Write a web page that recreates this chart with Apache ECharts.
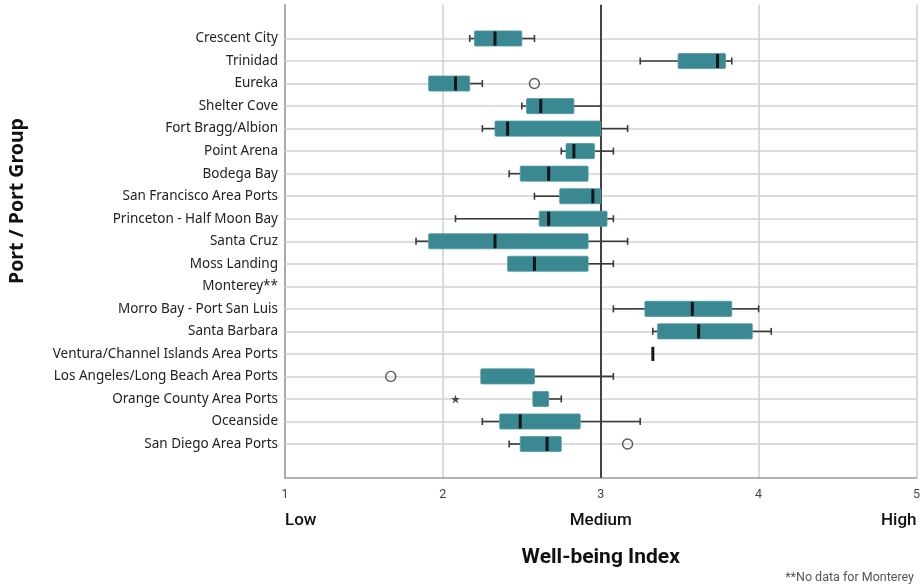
<!DOCTYPE html>
<html>
<head>
<meta charset="utf-8">
<script src="https://cdn.jsdelivr.net/npm/echarts@6/dist/echarts.min.js"></script>
<style>
  html, body { margin: 0; padding: 0; background: #fff; }
  #chart { width: 923px; height: 587px; }
</style>
</head>
<body>
<div id="chart"></div>
<script>
// Ports, north to south
const ports = [
  'Crescent City', 'Trinidad', 'Eureka', 'Shelter Cove', 'Fort Bragg/Albion',
  'Point Arena', 'Bodega Bay', 'San Francisco Area Ports', 'Princeton - Half Moon Bay',
  'Santa Cruz', 'Moss Landing', 'Monterey**', 'Morro Bay - Port San Luis',
  'Santa Barbara', 'Ventura/Channel Islands Area Ports', 'Los Angeles/Long Beach Area Ports',
  'Orange County Area Ports', 'Oceanside', 'San Diego Area Ports'
];

// Five-number summaries of the well-being index (null = no data)
const whiskerLow  = [2.17, 3.25, 1.91, 2.50, 2.25, 2.75, 2.42, 2.58, 2.08, 1.83, 2.41, null, 3.08, 3.33, 3.33, 2.24, 2.57, 2.25, 2.42];
const quartile1   = [2.20, 3.49, 1.91, 2.53, 2.33, 2.78, 2.49, 2.74, 2.61, 1.91, 2.41, null, 3.28, 3.36, 3.33, 2.24, 2.57, 2.36, 2.49];
const medians     = [2.33, 3.74, 2.08, 2.62, 2.41, 2.83, 2.67, 2.95, 2.67, 2.33, 2.58, null, 3.58, 3.62, 3.33, 2.24, 2.57, 2.49, 2.66];
const quartile3   = [2.50, 3.79, 2.17, 2.83, 3.00, 2.96, 2.92, 3.00, 3.04, 2.92, 2.92, null, 3.83, 3.96, 3.33, 2.58, 2.67, 2.87, 2.75];
const whiskerHigh = [2.58, 3.83, 2.25, 3.00, 3.17, 3.08, 2.92, 3.00, 3.08, 3.17, 3.08, null, 4.00, 4.08, 3.33, 3.08, 2.75, 3.25, 2.75];

// Outliers (circles) and extreme values (stars)
const outlierPorts = ['Eureka', 'Los Angeles/Long Beach Area Ports', 'San Diego Area Ports'];
const outlierValues = [2.58, 1.67, 3.17];
const extremePorts = ['Orange County Area Ports'];
const extremeValues = [2.08];

// Axis texts
const scaleTicks = [1, 2, 3, 4, 5];
const scaleWords = { 1: 'Low', 3: 'Medium', 5: 'High' };
const referenceLevel = 3;

// Empty rows above and below the ports leave breathing room inside the frame
const padTop = ' ', padBottom = '  ';
const yCategories = [padTop].concat(ports, [padBottom]);

const boxData = [];
ports.forEach((p, i) => {
  if (medians[i] == null) return;
  boxData.push([p, whiskerLow[i], quartile1[i], medians[i], quartile3[i], whiskerHigh[i]]);
});

const BOX_FILL = '#3a8891';
const WHISKER = '#3a3a3a';

function renderBox(params, api) {
  const row = api.value(0);
  const lo = api.value(1), q1 = api.value(2), md = api.value(3), q3 = api.value(4), hi = api.value(5);
  const band = api.size([0, 1])[1];
  const boxH = band * 0.67;
  const capH = 7;
  const pLo = api.coord([lo, row]);
  const pQ1 = api.coord([q1, row]);
  const pMd = api.coord([md, row]);
  const pQ3 = api.coord([q3, row]);
  const pHi = api.coord([hi, row]);
  const y = pMd[1];
  const line = (x1, y1, x2, y2, stroke, w) => ({
    type: 'line', shape: { x1, y1, x2, y2 }, style: { stroke, lineWidth: w }
  });
  const children = [];
  if (lo < q1) {
    children.push(line(pLo[0], y, pQ1[0], y, WHISKER, 1.6));
    children.push(line(pLo[0], y - capH / 2, pLo[0], y + capH / 2, WHISKER, 1.6));
  }
  if (hi > q3) {
    children.push(line(pQ3[0], y, pHi[0], y, WHISKER, 1.6));
    children.push(line(pHi[0], y - capH / 2, pHi[0], y + capH / 2, WHISKER, 1.6));
  }
  if (q3 > q1) {
    children.push({
      type: 'rect',
      shape: { x: pQ1[0], y: y - boxH / 2, width: pQ3[0] - pQ1[0], height: boxH, r: 1 },
      style: { fill: BOX_FILL, stroke: '#4f9aa2', lineWidth: 0.8 }
    });
  }
  // median bar, hidden when it coincides with one edge of a box
  const onEdge = q3 > q1 && (md === q1 || md === q3);
  if (!onEdge) {
    children.push(line(pMd[0], y - boxH / 2 + 0.5, pMd[0], y + boxH / 2 - 0.5, '#151515', 3));
  }
  return { type: 'group', children };
}

const starPath = 'path://M50,0 L61.8,35.1 L98.9,35.1 L68.9,56.7 L80.3,91.9 L50,70.2 L19.7,91.9 L31.1,56.7 L1.1,35.1 L38.2,35.1 Z';

const chart = echarts.init(document.getElementById('chart'), null, { renderer: 'canvas' });

chart.setOption({
  animation: false,
  backgroundColor: '#fff',
  grid: { left: 285, top: 4.7, width: 634, height: 473.1, containLabel: false },
  xAxis: [
    {
      type: 'value',
      min: scaleTicks[0],
      max: scaleTicks[scaleTicks.length - 1],
      interval: 1,
      axisLine: { show: true, lineStyle: { color: '#9a9a9a', width: 1.5 } },
      axisTick: { show: false },
      axisLabel: {
        color: '#444', fontSize: 12.5, fontFamily: 'Roboto', margin: 11,
        formatter: v => (scaleTicks.indexOf(v) >= 0 ? String(v) : '')
      },
      splitLine: { show: true, lineStyle: { color: '#d2d2d2', width: 1.6 } },
      name: 'Well-being Index',
      nameLocation: 'middle',
      nameGap: 69,
      nameTextStyle: { fontFamily: 'Roboto', fontWeight: 'bold', fontSize: 21, color: '#111' }
    },
    {
      type: 'value',
      position: 'bottom',
      min: scaleTicks[0],
      max: scaleTicks[scaleTicks.length - 1],
      interval: 1,
      axisLine: { show: false },
      axisTick: { show: false },
      splitLine: { show: false },
      axisLabel: {
        color: '#111', fontSize: 17, fontWeight: 500, fontFamily: 'Roboto', margin: 34,
        alignMinLabel: 'left', alignMaxLabel: 'right',
        formatter: v => scaleWords[v] || ''
      }
    }
  ],
  yAxis: {
    type: 'category',
    inverse: true,
    data: yCategories,
    axisLine: { show: true, lineStyle: { color: '#9a9a9a', width: 1.5 } },
    axisTick: { show: false },
    axisLabel: { color: '#222', fontSize: 13.5, fontFamily: '"Noto Sans", "Open Sans", sans-serif', margin: 7, interval: 0 },
    splitLine: { show: false }
  },
  graphic: [
    {
      type: 'text', x: 17, y: 201, rotation: Math.PI / 2,
      style: {
        text: 'Port / Port Group', font: 'bold 19.5px "Noto Sans", "Open Sans", sans-serif', fill: '#111',
        align: 'center', verticalAlign: 'middle'
      }
    },
    {
      type: 'text', right: 9, top: 571,
      style: { text: '**No data for Monterey', font: '12.5px Roboto', fill: '#555' }
    }
  ],
  series: [
    {
      // row guide lines and the medium reference line
      type: 'line',
      data: [],
      silent: true,
      markLine: {
        silent: true,
        z: 1,
        symbol: ['none', 'none'],
        label: { show: false },
        emphasis: { disabled: true },
        data: ports.map(p => ({ yAxis: p, lineStyle: { color: '#d2d2d2', width: 1.6, type: 'solid' } }))
          .concat([{ xAxis: referenceLevel, lineStyle: { color: '#1c1c1c', width: 1.6, type: 'solid' } }])
      }
    },
    {
      type: 'custom',
      renderItem: renderBox,
      data: boxData,
      encode: { x: [1, 2, 3, 4, 5], y: 0 },
      z: 5,
      silent: true
    },
    {
      type: 'scatter',
      data: outlierPorts.map((p, i) => [outlierValues[i], p]),
      symbol: 'circle',
      symbolSize: 10,
      itemStyle: { color: 'rgba(255,255,255,0)', borderColor: '#333', borderWidth: 1.4 },
      z: 6,
      silent: true
    },
    {
      type: 'scatter',
      data: extremePorts.map((p, i) => [extremeValues[i], p]),
      symbol: starPath,
      symbolSize: 9,
      itemStyle: { color: '#222' },
      z: 6,
      silent: true
    }
  ]
});
</script>
</body>
</html>
